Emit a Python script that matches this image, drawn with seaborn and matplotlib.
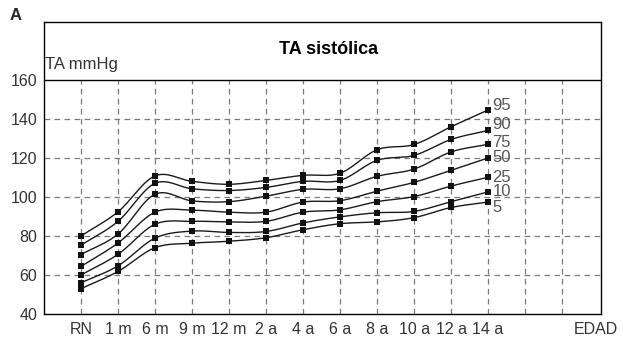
import numpy as np
import pandas as pd
import matplotlib
matplotlib.use("Agg")
import matplotlib.pyplot as plt
import seaborn as sns

ages = ["RN", "1 m", "6 m", "9 m", "12 m", "2 a", "4 a", "6 a", "8 a", "10 a", "12 a", "14 a"]
percentiles = ["95", "90", "75", "50", "25", "10", "5"]
p95 = [80.0, 92.4, 110.8, 108.0, 106.5, 108.5, 111.1, 112.2, 124.2, 126.9, 136.0, 144.6]
p90 = [75.3, 87.5, 107.0, 104.2, 103.3, 104.9, 108.0, 108.5, 118.8, 121.3, 129.5, 134.1]
p75 = [70.5, 81.0, 101.4, 98.0, 97.6, 100.4, 103.9, 104.2, 110.6, 114.3, 123.1, 127.0]
p50 = [64.4, 76.4, 92.2, 93.2, 92.2, 92.2, 97.4, 98.1, 103.0, 107.5, 113.7, 120.0]
p25 = [60.0, 70.6, 86.0, 87.5, 87.2, 87.5, 92.2, 93.4, 97.6, 100.2, 105.6, 110.1]
p10 = [56.0, 64.7, 78.9, 82.5, 81.8, 82.3, 86.7, 89.8, 91.9, 92.6, 97.6, 102.6]
p5 = [53.0, 61.8, 74.0, 76.3, 77.3, 79.1, 83.2, 86.3, 87.2, 89.4, 94.6, 97.4]
series = [p95, p90, p75, p50, p25, p10, p5]
yticks = [40, 60, 80, 100, 120, 140, 160]

FONT = ["Liberation Sans Narrow", "Liberation Sans", "DejaVu Sans"]
sns.set_style("white")
plt.rcParams["font.family"] = FONT


def catmull_rom(x, y, n=16):
    x = np.asarray(x, float)
    y = np.asarray(y, float)
    px = np.concatenate([[2 * x[0] - x[1]], x, [2 * x[-1] - x[-2]]])
    py = np.concatenate([[2 * y[0] - y[1]], y, [2 * y[-1] - y[-2]]])
    xs, ys = [], []
    for i in range(1, len(px) - 2):
        t = np.linspace(0, 1, n, endpoint=(i == len(px) - 3))
        for arr, out in ((px, xs), (py, ys)):
            p0, p1, p2, p3 = arr[i - 1], arr[i], arr[i + 1], arr[i + 2]
            out.extend(0.5 * ((2 * p1) + (-p0 + p2) * t + (2 * p0 - 5 * p1 + 4 * p2 - p3) * t ** 2
                              + (-p0 + 3 * p1 - 3 * p2 + p3) * t ** 3))
    return np.array(xs), np.array(ys)


fig = plt.figure(figsize=(6.23, 3.39), dpi=100)
ax = fig.add_axes([44 / 623, 25 / 339, 557 / 623, 292 / 339])

xpos = np.arange(len(ages))
grid_c = "#7a7a7a"
# grid
ax.hlines([60, 80, 100, 120, 140], -1, 14.05, colors=grid_c, linestyles=(0, (4.5, 3.5)), lw=0.9, zorder=1)
ax.vlines(np.arange(0, 14), 40, 160, colors=grid_c, linestyles=(0, (4.5, 3.5)), lw=0.9, zorder=1)
ax.axhline(160, color="black", lw=1.0, zorder=2)

offsets = [3, 4, 1, 0, 0, 0, -4]
for name, vals, off in zip(percentiles, series, offsets):
    sx, sy = catmull_rom(xpos, vals)
    sns.lineplot(x=sx, y=sy, color="#1a1a1a", lw=1.0, sort=False, estimator=None, ax=ax, zorder=3)
    sns.scatterplot(x=xpos, y=vals, marker="s", color="#111111", s=14, linewidth=0, ax=ax, zorder=4)
    ax.annotate(name, (xpos[-1], vals[-1]), xytext=(3, off), textcoords="offset points",
                ha="left", va="center", fontsize=12, color="#555555")

ax.set_xlim(-1, 14.05)
ax.set_ylim(40, 189.7)
ax.set_yticks(yticks)
ax.set_yticklabels([str(v) for v in yticks], fontsize=11.5, color="#333333")
ax.set_xticks(list(xpos) + [13.92])
ax.set_xticklabels(ages + ["EDAD"], fontsize=11.5, color="#333333")
ax.tick_params(axis="both", length=0)
ax.tick_params(axis="y", pad=5)
ax.tick_params(axis="x", pad=6)
for sp in ax.spines.values():
    sp.set_visible(True)
    sp.set_color("black")
    sp.set_linewidth(1.0)

ax.text(0.51, 0.905, "TA sistólica", transform=ax.transAxes, ha="center", va="center",
        fontsize=13, fontweight="bold", color="black")
ax.text(0.002, 0.853, "TA mmHg", transform=ax.transAxes, ha="left", va="center",
        fontsize=12, color="#333333")
fig.text(10 / 623, 1 - 15 / 339, "A", ha="left", va="center", fontsize=12, fontweight="bold")

fig.savefig("out.png", dpi=100)
